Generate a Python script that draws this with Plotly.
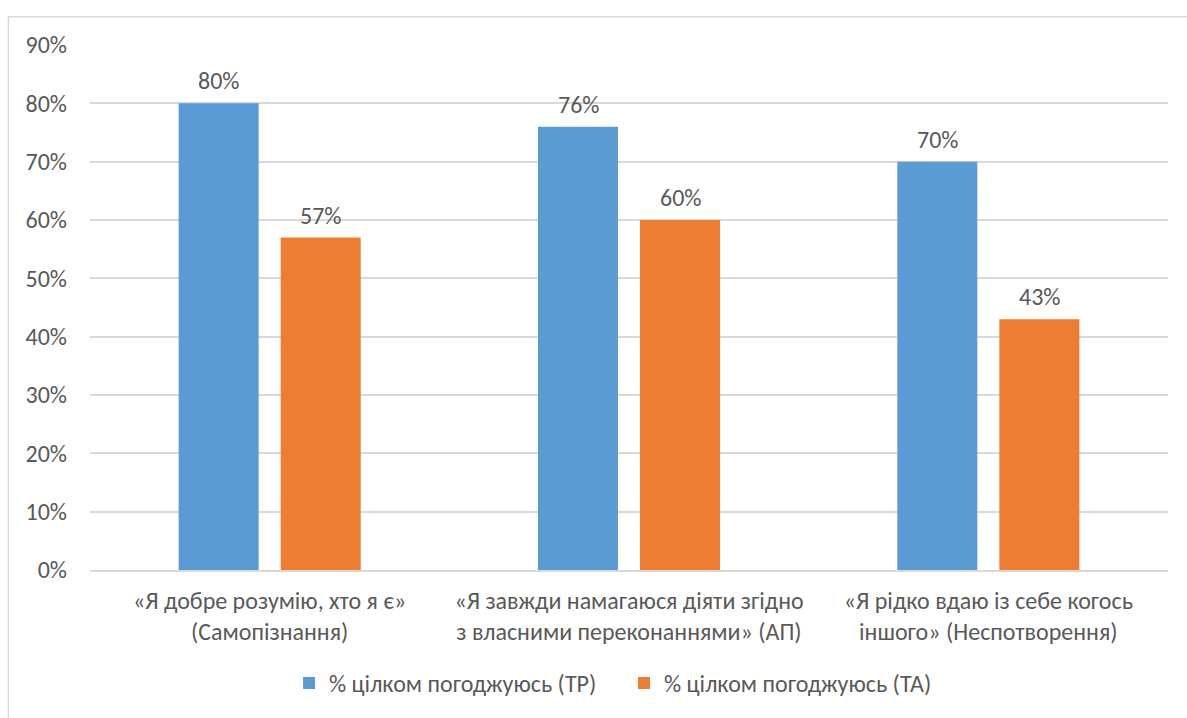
import plotly.graph_objects as go

# Categories (statements) and shares of full agreement per group
categories = [
    "«Я добре розумію, хто я є»<br>(Самопізнання)",
    "«Я завжди намагаюся діяти згідно<br>з власними переконаннями» (АП)",
    "«Я рідко вдаю із себе когось<br>іншого» (Неспотворення)",
]
series_names = ["% цілком погоджуюсь (ТР)", "% цілком погоджуюсь (ТА)"]
values_tp = [0.80, 0.76, 0.70]
values_ta = [0.57, 0.60, 0.43]

colors = ["#5B9BD5", "#ED7D31"]
text_color = "#595959"
grid_color = "#D9D9D9"
font_family = "Carlito, Lato, sans-serif"
fsize = 24

fig = go.Figure()
for name, vals, col in zip(series_names, [values_tp, values_ta], colors):
    fig.add_trace(go.Bar(
        x=categories, y=vals, name=name,
        marker=dict(color=col, line=dict(width=0)),
    ))

# Value labels above each bar
offsets = [-51, 51]
for vals, dx in zip([values_tp, values_ta], offsets):
    for cat, v in zip(categories, vals):
        fig.add_annotation(
            x=cat, y=v, xref="x", yref="y", text=f"{v:.0%}",
            showarrow=False, yanchor="bottom", xshift=dx, yshift=6,
            font=dict(size=fsize, color=text_color, family=font_family),
        )

# Outer chart frame
fig.add_shape(type="rect", xref="paper", yref="paper",
              x0=-0.0757, x1=1.1, y0=-0.5, y1=1.054,
              line=dict(color=grid_color, width=1.5), layer="below")

fig.update_layout(
    width=1187, height=718,
    margin=dict(l=90, r=19, t=45, b=145),
    paper_bgcolor="white", plot_bgcolor="white",
    barmode="group", bargap=0.432, bargroupgap=0.216,
    font=dict(family=font_family, color=text_color, size=fsize),
    legend=dict(orientation="h", x=0.4954, xanchor="center",
                y=-0.216, yanchor="middle",
                font=dict(size=fsize, color=text_color),
                itemwidth=30, entrywidth=290, entrywidthmode="pixels",
                traceorder="normal"),
    showlegend=True,
)
fig.update_yaxes(range=[0, 0.9], dtick=0.1, tickformat=".0%",
                 showgrid=True, gridcolor=grid_color, gridwidth=1.5,
                 zeroline=False, showline=False,
                 ticklabelstandoff=22,
                 tickfont=dict(size=fsize, color=text_color))
fig.update_xaxes(showline=True, linecolor=grid_color, linewidth=1.5,
                 ticks="", ticklabelstandoff=8,
                 tickfont=dict(size=fsize, color=text_color))

fig.write_html("out.html")
